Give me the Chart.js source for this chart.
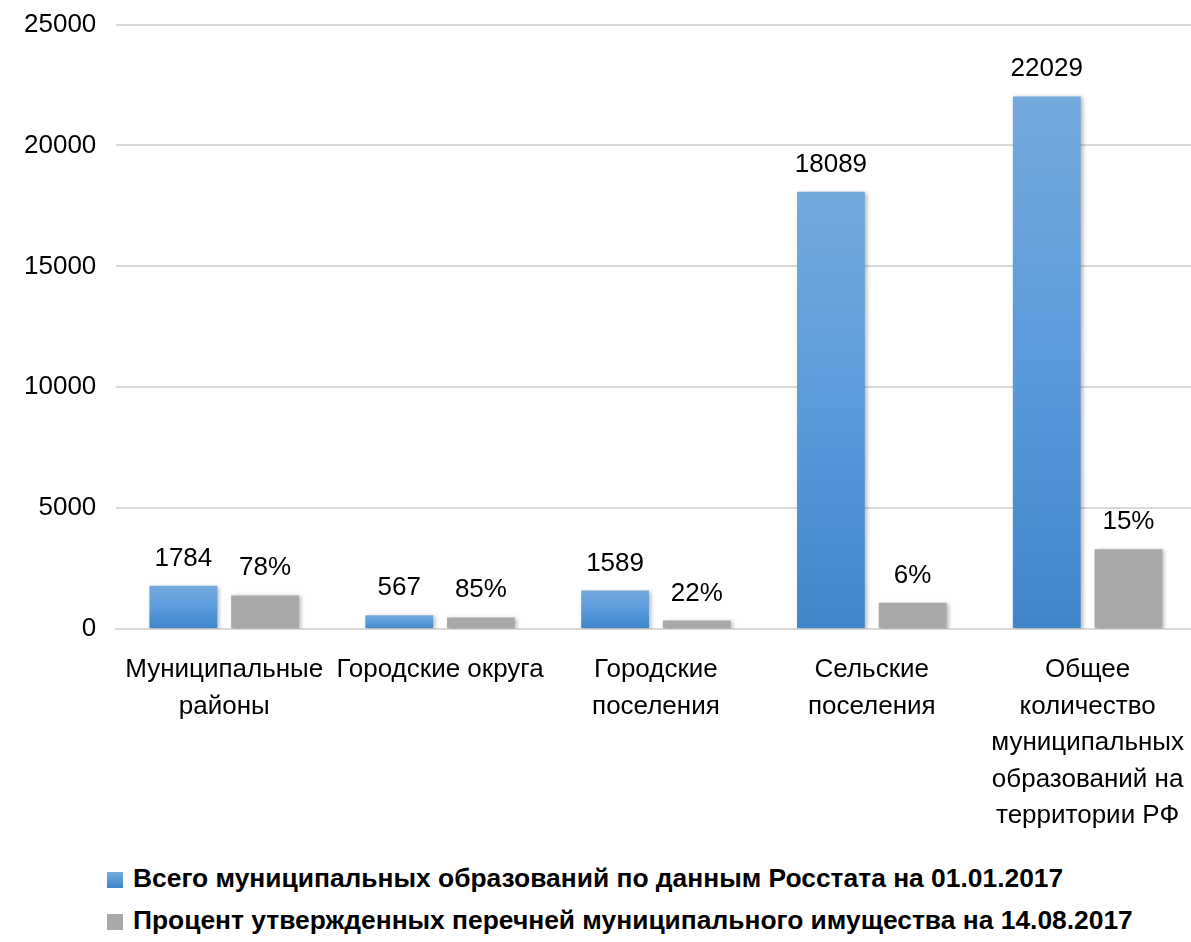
<!DOCTYPE html>
<html lang="ru">
<head>
<meta charset="utf-8">
<script src="https://cdn.jsdelivr.net/npm/chart.js@4"></script>
<style>
    html, body { margin: 0; padding: 0; background: #fff; overflow: hidden; }
    #wrap { position: relative; width: 1199px; height: 864px; margin-top: -11px; }
    #legend { font-family: 'Liberation Sans', Arial, sans-serif;
              font-weight: bold; font-size: 26.4px; color: #000; padding-left: 107px; margin-top: 4px; }
    #legend div { height: 42px; line-height: 42px; white-space: nowrap; }
    #legend span.box { display: inline-block; width: 16px; height: 16px; margin-right: 10px; vertical-align: -1px; }
</style>
</head>
<body>
<div id="wrap"><canvas id="chart"></canvas></div>
<div id="legend"></div>
<script>
// Данные диаграммы
const categories = [
    ['Муниципальные', 'районы'],
    'Городские округа',
    ['Городские', 'поселения'],
    ['Сельские', 'поселения'],
    ['Общее', 'количество', 'муниципальных', 'образований на', 'территории РФ']
];
const totalLabel = 'Всего муниципальных образований по данным Росстата на 01.01.2017';
const percentLabel = 'Процент утвержденных перечней муниципального имущества на 14.08.2017';
const totalValues = [1784, 567, 1589, 18089, 22029];
const approvedValues = [1390, 480, 350, 1085, 3300]; // высота серых столбцов (оценка по рисунку)
const percentValues = [78, 85, 22, 6, 15];
const yTicks = [0, 5000, 10000, 15000, 20000, 25000];

const FONT = "'Liberation Sans', Arial, sans-serif";
const GRAY = '#a9a9a9';

// Градиент для каждого синего столбца
function blueGradient(ctx) {
    const chart = ctx.chart;
    const y = chart.scales.y;
    if (!y || ctx.type !== 'data') return '#5b9bd5';
    const top = y.getPixelForValue(ctx.parsed ? ctx.parsed.y : totalValues[ctx.dataIndex]);
    const base = y.getPixelForValue(0);
    if (!isFinite(top) || !isFinite(base) || top === base) return '#5b9bd5';
    const g = chart.ctx.createLinearGradient(0, top, 0, base);
    g.addColorStop(0, '#74a9dd');
    g.addColorStop(0.5, '#5a9bdb');
    g.addColorStop(1, '#3f86c9');
    return g;
}

// Тени столбцов
const barShadow = {
    id: 'barShadow',
    beforeDatasetsDraw(chart) {
        const c = chart.ctx;
        c.save();
        c.shadowColor = 'rgba(0,0,0,0.28)';
        c.shadowBlur = 4;
        c.shadowOffsetX = 2;
        c.shadowOffsetY = 1;
    },
    afterDatasetsDraw(chart) {
        chart.ctx.restore();
    }
};

// Подписи над столбцами
const valueLabels = {
    id: 'valueLabels',
    afterDraw(chart) {
        const c = chart.ctx;
        c.save();
        c.font = '26px ' + FONT;
        c.fillStyle = '#000';
        c.textAlign = 'center';
        c.textBaseline = 'alphabetic';
        chart.data.datasets.forEach((ds, di) => {
            const meta = chart.getDatasetMeta(di);
            meta.data.forEach((bar, i) => {
                const text = di === 0 ? String(totalValues[i]) : percentValues[i] + '%';
                c.fillText(text, bar.x, bar.y - 20);
            });
        });
        c.restore();
    }
};

const chart = new Chart(document.getElementById('chart'), {
    type: 'bar',
    data: {
        labels: categories,
        datasets: [{
            label: totalLabel,
            data: totalValues,
            backgroundColor: blueGradient,
            categoryPercentage: 0.757,
            barPercentage: 0.83
        }, {
            label: percentLabel,
            data: approvedValues,
            backgroundColor: GRAY,
            categoryPercentage: 0.757,
            barPercentage: 0.83
        }]
    },
    options: {
        responsive: true,
        maintainAspectRatio: false,
        animation: false,
        layout: { padding: { left: 4, right: 0, top: 0, bottom: 4 } },
        scales: {
            x: {
                grid: { display: false },
                border: { display: true, color: '#d9d9d9', width: 2 },
                ticks: {
                    color: '#000',
                    font: { family: FONT, size: 26, lineHeight: 1.4 },
                    padding: 15,
                    maxRotation: 0,
                    autoSkip: false
                }
            },
            y: {
                min: 0,
                max: 25000,
                afterBuildTicks: axis => { axis.ticks = yTicks.map(v => ({ value: v })); },
                grid: { color: '#d9d9d9', lineWidth: 2, drawTicks: false },
                border: { display: false },
                ticks: {
                    color: '#000',
                    font: { family: FONT, size: 26 },
                    padding: 20,
                    callback: v => String(v)
                }
            }
        },
        plugins: {
            legend: { display: false },
            tooltip: { enabled: false }
        }
    },
    plugins: [barShadow, valueLabels]
});

// Легенда
const legend = document.getElementById('legend');
[[totalLabel, 'linear-gradient(#74a9dd, #3f86c9)'], [percentLabel, GRAY]].forEach(([text, bg]) => {
    const row = document.createElement('div');
    const box = document.createElement('span');
    box.className = 'box';
    box.style.background = bg;
    row.appendChild(box);
    row.appendChild(document.createTextNode(text));
    legend.appendChild(row);
});
</script>
</body>
</html>
